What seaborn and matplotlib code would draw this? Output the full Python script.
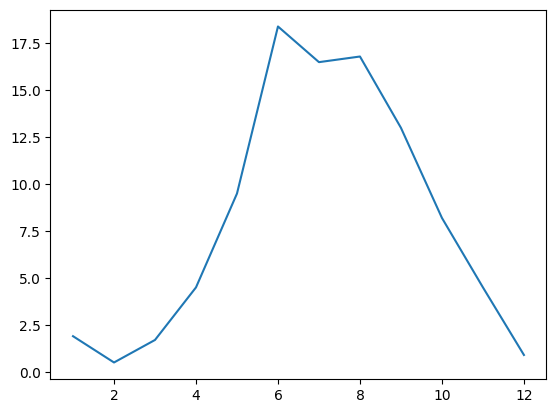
import matplotlib
matplotlib.use('Agg')
import matplotlib.pyplot as plt
import seaborn as sns

# 월별 값
months = [1, 2, 3, 4, 5, 6, 7, 8, 9, 10, 11, 12]
values = [1.9, 0.5, 1.7, 4.5, 9.5, 18.4, 16.5, 16.8, 13.0, 8.2, 4.5, 0.9]

fig, ax = plt.subplots(figsize=(6.4, 4.8))
sns.lineplot(x=months, y=values, ax=ax, color='#1f77b4')

plt.savefig('out.png', dpi=100, bbox_inches='tight')
